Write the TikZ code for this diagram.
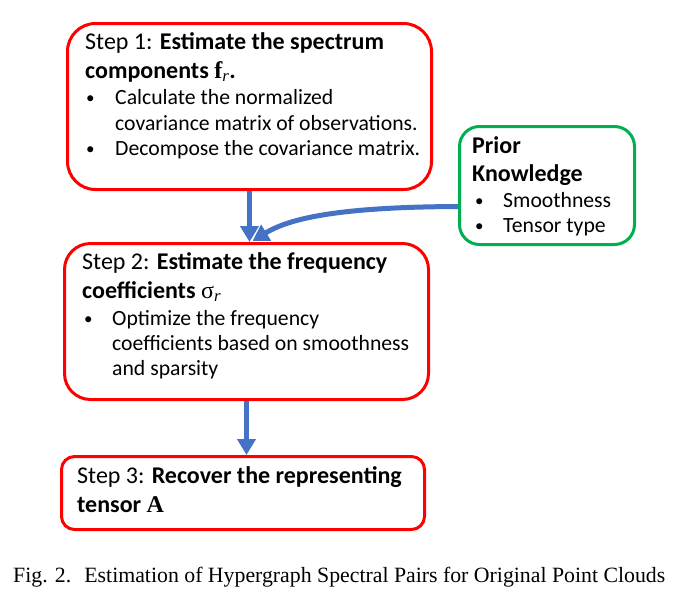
\documentclass[tikz,border=0pt]{standalone}
\usepackage{fontspec}
\setmainfont{Carlito}
\newfontfamily\capfont{Liberation Serif}
\newfontfamily\serf{Liberation Serif}
\usetikzlibrary{arrows.meta,calc}
\definecolor{boxred}{HTML}{FF0000}
\definecolor{boxgreen}{HTML}{00B050}
\definecolor{arrblue}{HTML}{4472C4}
\newcommand{\mybul}{\raisebox{1pt}{\fontsize{17}{17}\selectfont\textbullet}}
\newcommand{\subr}{\textsubscript{\serf\itshape\mdseries r}}
\begin{document}
\begin{tikzpicture}[x=1pt,y=-1pt,
  redbox/.style={draw=boxred,line width=3pt,fill=white,anchor=north west,inner sep=0pt},
  greenbox/.style={draw=boxgreen,line width=3pt,fill=white,anchor=north west,inner sep=0pt},
  txt/.style={anchor=base west,inner sep=0pt,font=\fontsize{21.7}{26}\selectfont},
  ttl/.style={anchor=base west,inner sep=0pt,font=\fontsize{24}{28}\selectfont},
  arr/.style={draw=arrblue,line width=5pt,-{Triangle[length=16pt,width=18pt]}}]
\useasboundingbox (0,0) rectangle (678,598);
% boxes
\node[redbox,minimum width=364pt,minimum height=166pt,rounded corners=28pt] (s1) at (66,22) {};
\node[redbox,minimum width=364pt,minimum height=156pt,rounded corners=26pt] (s2) at (63,242) {};
\node[redbox,minimum width=363pt,minimum height=73pt,rounded corners=13pt] (s3) at (60,455) {};
\node[greenbox,minimum width=175pt,minimum height=118pt,rounded corners=20pt] (prior) at (458,125) {};
% box 1 text
\node[ttl] (t1a) at (85,49) {Step 1: \textbf{Estimate the spectrum}};
\node[ttl] (t1b) at (85,78) {\textbf{components {\serf f}\subr.}};
\node[txt] (b1a) at (86,104) {\mybul};
\node[txt] (t1c) at (115,104) {Calculate the normalized};
\node[txt] (t1d) at (115,130) {covariance matrix of observations.};
\node[txt] (b1b) at (86,155) {\mybul};
\node[txt] (t1e) at (115,155) {Decompose the covariance matrix.};
% box 2 text
\node[ttl] (t2a) at (82,269) {Step 2: \textbf{Estimate the frequency}};
\node[ttl] (t2b) at (82,298) {\textbf{coefficients} {\serf σ}\subr};
\node[txt] (b2a) at (84,325) {\mybul};
\node[txt] (t2c) at (112,325) {Optimize the frequency};
\node[txt] (t2d) at (112,350) {coefficients based on smoothness};
\node[txt] (t2e) at (112,375) {and sparsity};
% box 3 text
\node[ttl] (t3a) at (77,483) {Step 3: \textbf{Recover the representing}};
\node[ttl] (t3b) at (77,512) {\textbf{tensor {\serf A}}};
% prior text
\node[ttl] (tpa) at (472,153) {\textbf{Prior}};
\node[ttl] (tpb) at (472,181) {\textbf{Knowledge}};
\node[txt] (bpa) at (475,207) {\mybul};
\node[txt] (tpc) at (503,207) {Smoothness};
\node[txt] (bpb) at (475,232) {\mybul};
\node[txt] (tpd) at (503,232) {Tensor type};
% arrows
\draw[arr] (s1.south) -- (s1.south |- s2.north);
\draw[arr] ($(prior.west)+(0,21)$) .. controls (340,207) and (290,218) .. ($(s1.south |- s2.north)+(3,-1)$);
\draw[arr] (s2.south) -- (s2.south |- s3.north);
% caption
\node[anchor=base west,inner sep=0pt,font=\capfont\fontsize{21.8}{26}\selectfont] (cap) at (13,582) {Fig. 2.\hspace{0.6em}Estimation of Hypergraph Spectral Pairs for Original Point Clouds};
\end{tikzpicture}
\end{document}
